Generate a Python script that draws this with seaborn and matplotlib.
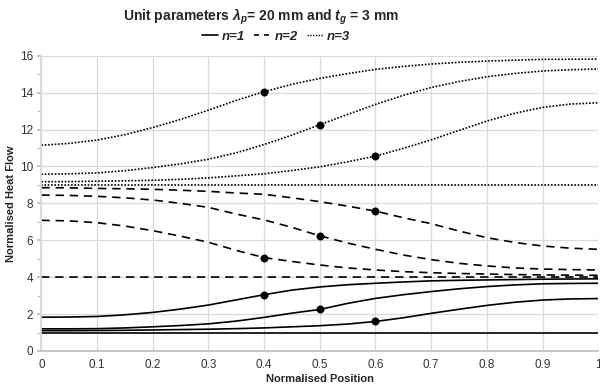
import numpy as np
import pandas as pd
import matplotlib
matplotlib.use("Agg")
import matplotlib.pyplot as plt
import seaborn as sns
from matplotlib.lines import Line2D

# ---- data ----
positions = [0.0, 0.05, 0.1, 0.15, 0.2, 0.25, 0.3, 0.35, 0.4, 0.45, 0.5,
             0.55, 0.6, 0.65, 0.7, 0.75, 0.8, 0.85, 0.9, 0.95, 1.0]

n1_flat = [1.0] * 21
n1_a = [1.83, 1.84, 1.87, 1.96, 2.09, 2.27, 2.49, 2.77, 3.05, 3.30, 3.47,
        3.59, 3.67, 3.74, 3.80, 3.83, 3.85, 3.87, 3.89, 3.90, 3.91]
n1_b = [1.20, 1.20, 1.21, 1.25, 1.31, 1.38, 1.47, 1.62, 1.82, 2.05, 2.25,
        2.58, 2.85, 3.05, 3.22, 3.37, 3.49, 3.58, 3.64, 3.66, 3.67]
n1_c = [1.10, 1.10, 1.11, 1.12, 1.14, 1.16, 1.18, 1.21, 1.25, 1.31, 1.37,
        1.46, 1.60, 1.80, 2.04, 2.26, 2.47, 2.64, 2.76, 2.82, 2.84]

n2_flat = [4.0] * 21
n2_a = [8.85, 8.84, 8.81, 8.79, 8.76, 8.71, 8.65, 8.56, 8.49, 8.30, 8.09,
        7.85, 7.58, 7.22, 6.90, 6.50, 6.14, 5.88, 5.69, 5.57, 5.51]
n2_b = [8.45, 8.43, 8.38, 8.30, 8.18, 8.00, 7.78, 7.42, 7.10, 6.70, 6.24,
        5.85, 5.51, 5.20, 4.95, 4.75, 4.61, 4.50, 4.44, 4.41, 4.39]
n2_c = [7.08, 7.05, 6.95, 6.77, 6.52, 6.22, 5.89, 5.45, 5.06, 4.85, 4.66,
        4.50, 4.39, 4.30, 4.24, 4.20, 4.17, 4.14, 4.12, 4.11, 4.10]

n3_flat = [9.0] * 21
n3_a = [11.15, 11.25, 11.43, 11.72, 12.11, 12.55, 13.05, 13.58, 14.05, 14.45, 14.77,
        15.03, 15.26, 15.42, 15.55, 15.64, 15.71, 15.76, 15.80, 15.81, 15.82]
n3_b = [9.58, 9.60, 9.65, 9.77, 9.94, 10.14, 10.39, 10.74, 11.19, 11.70, 12.26,
        12.82, 13.36, 13.85, 14.28, 14.60, 14.86, 15.04, 15.17, 15.24, 15.28]
n3_c = [9.17, 9.18, 9.20, 9.22, 9.25, 9.30, 9.38, 9.49, 9.60, 9.78, 9.98,
        10.25, 10.56, 10.98, 11.44, 11.95, 12.46, 12.88, 13.20, 13.38, 13.45]

marker_x = [0.4, 0.5, 0.6, 0.4, 0.5, 0.6, 0.4, 0.5, 0.6]
marker_y = [3.05, 2.25, 1.60, 5.06, 6.24, 7.58, 14.05, 12.26, 10.56]

x_ticks = [0, 0.1, 0.2, 0.3, 0.4, 0.5, 0.6, 0.7, 0.8, 0.9, 1]
x_tick_labels = ["0", "0.1", "0.2", "0.3", "0.4", "0.5", "0.6", "0.7", "0.8", "0.9", "1"]
y_ticks = [0, 2, 4, 6, 8, 10, 12, 14, 16]

# ---- style ----
sns.set_theme(style="white")
plt.rcParams['font.family'] = ['Liberation Sans', 'DejaVu Sans']
plt.rcParams['mathtext.fontset'] = 'custom'
plt.rcParams['mathtext.it'] = 'Liberation Sans:italic:bold'
plt.rcParams['mathtext.rm'] = 'Liberation Sans:bold'

fig = plt.figure(figsize=(6.0, 3.88), dpi=100)
ax = fig.add_axes([0.069, 0.0954, 0.928, 0.761])

styles = {1: "-", 2: (0, (5, 3.5)), 3: (0, (1, 1))}
groups = {1: [n1_flat, n1_a, n1_b, n1_c],
          2: [n2_flat, n2_a, n2_b, n2_c],
          3: [n3_flat, n3_a, n3_b, n3_c]}

for n, series in groups.items():
    for vals in series:
        df = pd.DataFrame({"pos": positions, "flow": vals})
        sns.lineplot(data=df, x="pos", y="flow", ax=ax, color="black",
                     linestyle=styles[n], linewidth=1.2 if n != 3 else 1.2,
                     legend=False)

sns.scatterplot(x=marker_x, y=marker_y, ax=ax, color="black", s=28,
                edgecolor="black", zorder=5, legend=False)

ax.set_xlim(0, 1)
ax.set_ylim(0, 16)
ax.set_xticks(x_ticks)
ax.set_xticklabels(x_tick_labels)
ax.set_yticks(y_ticks)
ax.set_yticks([1, 3, 5, 7, 9, 11, 13, 15], minor=True)
ax.grid(True, which="major", color="#d9d9d9", linewidth=0.9)
ax.set_axisbelow(True)
for s in ["top", "right"]:
    ax.spines[s].set_visible(False)
ax.spines["left"].set_color("#d9d9d9")
ax.spines["bottom"].set_color("#bfbfbf")
ax.tick_params(axis="x", which="major", labelsize=8.5, length=0, pad=6)
ax.tick_params(axis="y", which="major", labelsize=8.5, left=True, length=3,
               color="#bfbfbf", pad=3)
ax.tick_params(axis="y", which="minor", left=True, length=3, color="#bfbfbf",
               width=0.8)
for lab in ax.get_xticklabels() + ax.get_yticklabels():
    lab.set_color("#333333")

ax.set_xlabel("Normalised Position", fontsize=8, fontweight="bold", labelpad=2)
ax.set_ylabel("Normalised Heat Flow", fontsize=8, fontweight="bold", labelpad=3)

fig.text(0.435, 0.957, r"Unit parameters $\lambda_p$= 20 mm and $t_g$ = 3 mm",
         ha="center", va="center", fontsize=10, fontweight="bold")

handles = [Line2D([0], [0], color="black", linestyle=styles[1], linewidth=1.2),
           Line2D([0], [0], color="black", linestyle=(0, (3, 3)), linewidth=1.2),
           Line2D([0], [0], color="black", linestyle=(0, (1, 1)), linewidth=1.0)]
leg = fig.legend(handles, ["n=1", "n=2", "n=3"], loc="center",
                 bbox_to_anchor=(0.46, 0.905), ncol=3, frameon=False,
                 handlelength=1.2, handletextpad=0.3, columnspacing=0.7,
                 prop={"weight": "bold", "style": "italic", "size": 9.5})

fig.savefig("out.png", dpi=100)
